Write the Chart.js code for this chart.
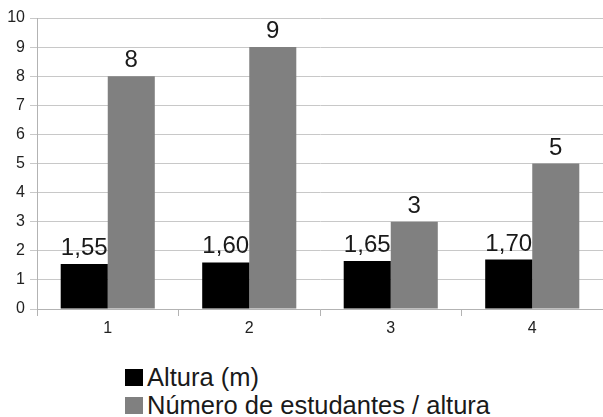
<!DOCTYPE html>
<html>
<head>
<meta charset="utf-8">
<script src="https://cdn.jsdelivr.net/npm/chart.js@4/dist/chart.umd.min.js"></script>
<style>
  html, body { margin: 0; padding: 0; background: #fff; }
  #wrap { position: relative; width: 603px; height: 417px; overflow: hidden; }
  #wrap canvas { position: absolute; left: 0; top: 0; }
  #legend { position: absolute; left: 125px; top: 363px; font-family: "Liberation Sans", Arial, sans-serif; font-size: 25.5px; color: #1a1a1a; }
  #legend .item { display: flex; align-items: center; height: 28px; white-space: nowrap; }
  #legend .box { width: 18px; height: 17px; margin-right: 4px; }
</style>
</head>
<body>
<div id="wrap">
  <canvas id="chart" width="603" height="345"></canvas>
  <div id="legend"></div>
</div>
<script>
const categories = ['1', '2', '3', '4'];
const alturas = [1.55, 1.60, 1.65, 1.70];
const estudantes = [8, 9, 3, 5];
const seriesNames = ['Altura (m)', 'Número de estudantes / altura'];
const seriesColors = ['#000000', '#808080'];

const fmt = v => Number.isInteger(v) ? String(v) : v.toFixed(2).replace('.', ',');

// draws the value above each bar
const barLabels = {
    id: 'barLabels',
    afterDatasetsDraw(chart) {
        const ctx = chart.ctx;
        ctx.save();
        ctx.font = '24px "Liberation Sans", Arial, sans-serif';
        ctx.fillStyle = '#1a1a1a';
        ctx.textAlign = 'center';
        ctx.textBaseline = 'alphabetic';
        chart.data.datasets.forEach((ds, i) => {
            chart.getDatasetMeta(i).data.forEach((bar, j) => {
                ctx.fillText(fmt(ds.data[j]), bar.x, bar.y - 9);
            });
        });
        ctx.restore();
    }
};

const chart = new Chart(document.getElementById('chart'), {
    type: 'bar',
    data: {
        labels: categories,
        datasets: [
            { label: seriesNames[0], data: alturas, backgroundColor: seriesColors[0] },
            { label: seriesNames[1], data: estudantes, backgroundColor: seriesColors[1] }
        ]
    },
    options: {
        responsive: false,
        animation: false,
        devicePixelRatio: 1,
        categoryPercentage: 0.665,
        barPercentage: 1.0,
        layout: { padding: { top: 18, right: 0, bottom: 0, left: 0 } },
        plugins: {
            legend: { display: false },
            tooltip: { enabled: false }
        },
        scales: {
            x: {
                offset: true,
                grid: { offset: true, drawOnChartArea: false, drawTicks: true, tickLength: 7, color: '#b3b3b3' },
                border: { color: '#b3b3b3' },
                ticks: { color: '#222', padding: 3, font: { family: 'Liberation Sans', size: 16 } },
                afterFit: s => { s.height = 36; }
            },
            y: {
                min: 0,
                max: 10,
                grid: { color: '#c8c8c8', tickLength: 7 },
                border: { color: '#b3b3b3' },
                ticks: { stepSize: 1, color: '#222', padding: 5, font: { family: 'Liberation Sans', size: 16 } },
                afterFit: s => { s.width = 37; }
            }
        }
    },
    plugins: [barLabels]
});

const legend = document.getElementById('legend');
chart.data.datasets.forEach(ds => {
    const item = document.createElement('div');
    item.className = 'item';
    const box = document.createElement('span');
    box.className = 'box';
    box.style.background = ds.backgroundColor;
    const txt = document.createElement('span');
    txt.textContent = ds.label;
    item.appendChild(box);
    item.appendChild(txt);
    legend.appendChild(item);
});
</script>
</body>
</html>
